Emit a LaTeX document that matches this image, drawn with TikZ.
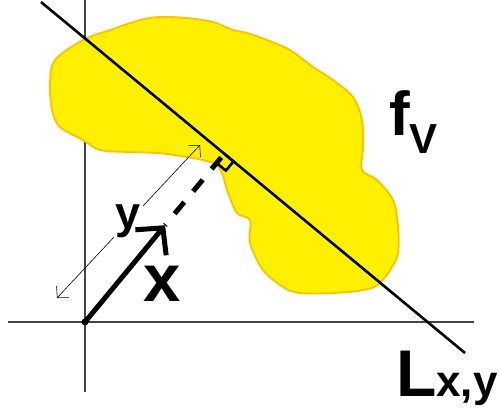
\documentclass[tikz,border=0pt]{standalone}
\usepackage{fontspec}
\setmainfont{Liberation Sans}
\usetikzlibrary{arrows.meta,calc}
\definecolor{blobFill}{HTML}{FFF000}
\definecolor{blobEdge}{HTML}{FFC000}
\definecolor{axisGray}{HTML}{444444}

\begin{document}
\begin{tikzpicture}[x=1pt,y=-1pt,
    axis/.style={draw=axisGray, line width=1.2pt},
    blob/.style={fill=blobFill, draw=blobEdge, line width=1.8pt},
    lab/.style={inner sep=0pt, font=\bfseries}]
  \useasboundingbox (0,0) rectangle (500,418);
  % axes
  \coordinate (O)  at (85,322);
  \coordinate (ax) at (8,322);
  \coordinate (bx) at (474,322);
  \coordinate (ay) at (85,0);
  \coordinate (by) at (85,392);
  \draw[axis] (ax) -- (bx);
  \draw[axis] (ay) -- (by);
  % support of f_V
  \draw[blob] plot[smooth cycle, tension=0.55] coordinates {
    (55,60) (83,40) (110,30) (140,20) (160,17) (187,18) (213,22) (233,30)
    (247,33) (267,40) (290,50) (313,67) (333,80) (353,97) (362,120) (363,147)
    (362,170) (377,180) (393,200) (398,227) (397,257) (380,283) (363,290)
    (333,293) (300,293) (283,287) (263,270) (250,243) (250,220) (237,213)
    (227,190) (222,173) (213,163) (187,157) (157,153) (127,152) (100,150)
    (83,140) (60,127) (52,110) (50,83)};
  % the line L
  \coordinate (La) at (41,2);
  \coordinate (Lb) at (465,353);
  \draw[line width=2.6pt] (La) -- (Lb);
  \coordinate (F)    at ($(La)!(O)!(Lb)$);
  \coordinate (xtip) at ($(O)!0.575!(F)$);
  \coordinate (Fa)   at ($(F)!12pt!(Lb)$);
  \coordinate (Fb)   at ($(F)!12pt!(O)$);
  \draw[line width=2.6pt] (F) -- (Fa) -- ($(Fa)+(Fb)-(F)$) -- (Fb);
  \draw[line width=5pt, dash pattern=on 15pt off 14pt, dash phase=14pt] (xtip) -- (F);
  % y
  \coordinate (ya) at (57,298);
  \coordinate (yb) at (200,145);
  \draw[line width=0.6pt, {Straight Barb[length=8pt,width=17pt]}-{Straight Barb[length=8pt,width=17pt]}]
    (ya) -- node[lab, fill=white, inner sep=2pt, font=\fontsize{45}{45}\selectfont\bfseries] (ylab) {y} (yb);
  % x
  \fill (O) circle (3.5pt);
  \draw[line width=5pt, -{Straight Barb[length=19pt,width=40pt]}] (O) -- (xtip);
  \node[lab, font=\fontsize{67}{67}\selectfont\bfseries] (xlab) at (162,284) {x};
  % labels
  \node[lab, anchor=base west] (fV) at (389,135)
    {\fontsize{62}{62}\selectfont f\raisebox{-18pt}{\fontsize{42}{42}\selectfont V}};
  \node[lab, anchor=base west] (Lxy) at (396,396)
    {\fontsize{66}{66}\selectfont L\fontsize{44}{44}\selectfont x,y};
\end{tikzpicture}
\end{document}
